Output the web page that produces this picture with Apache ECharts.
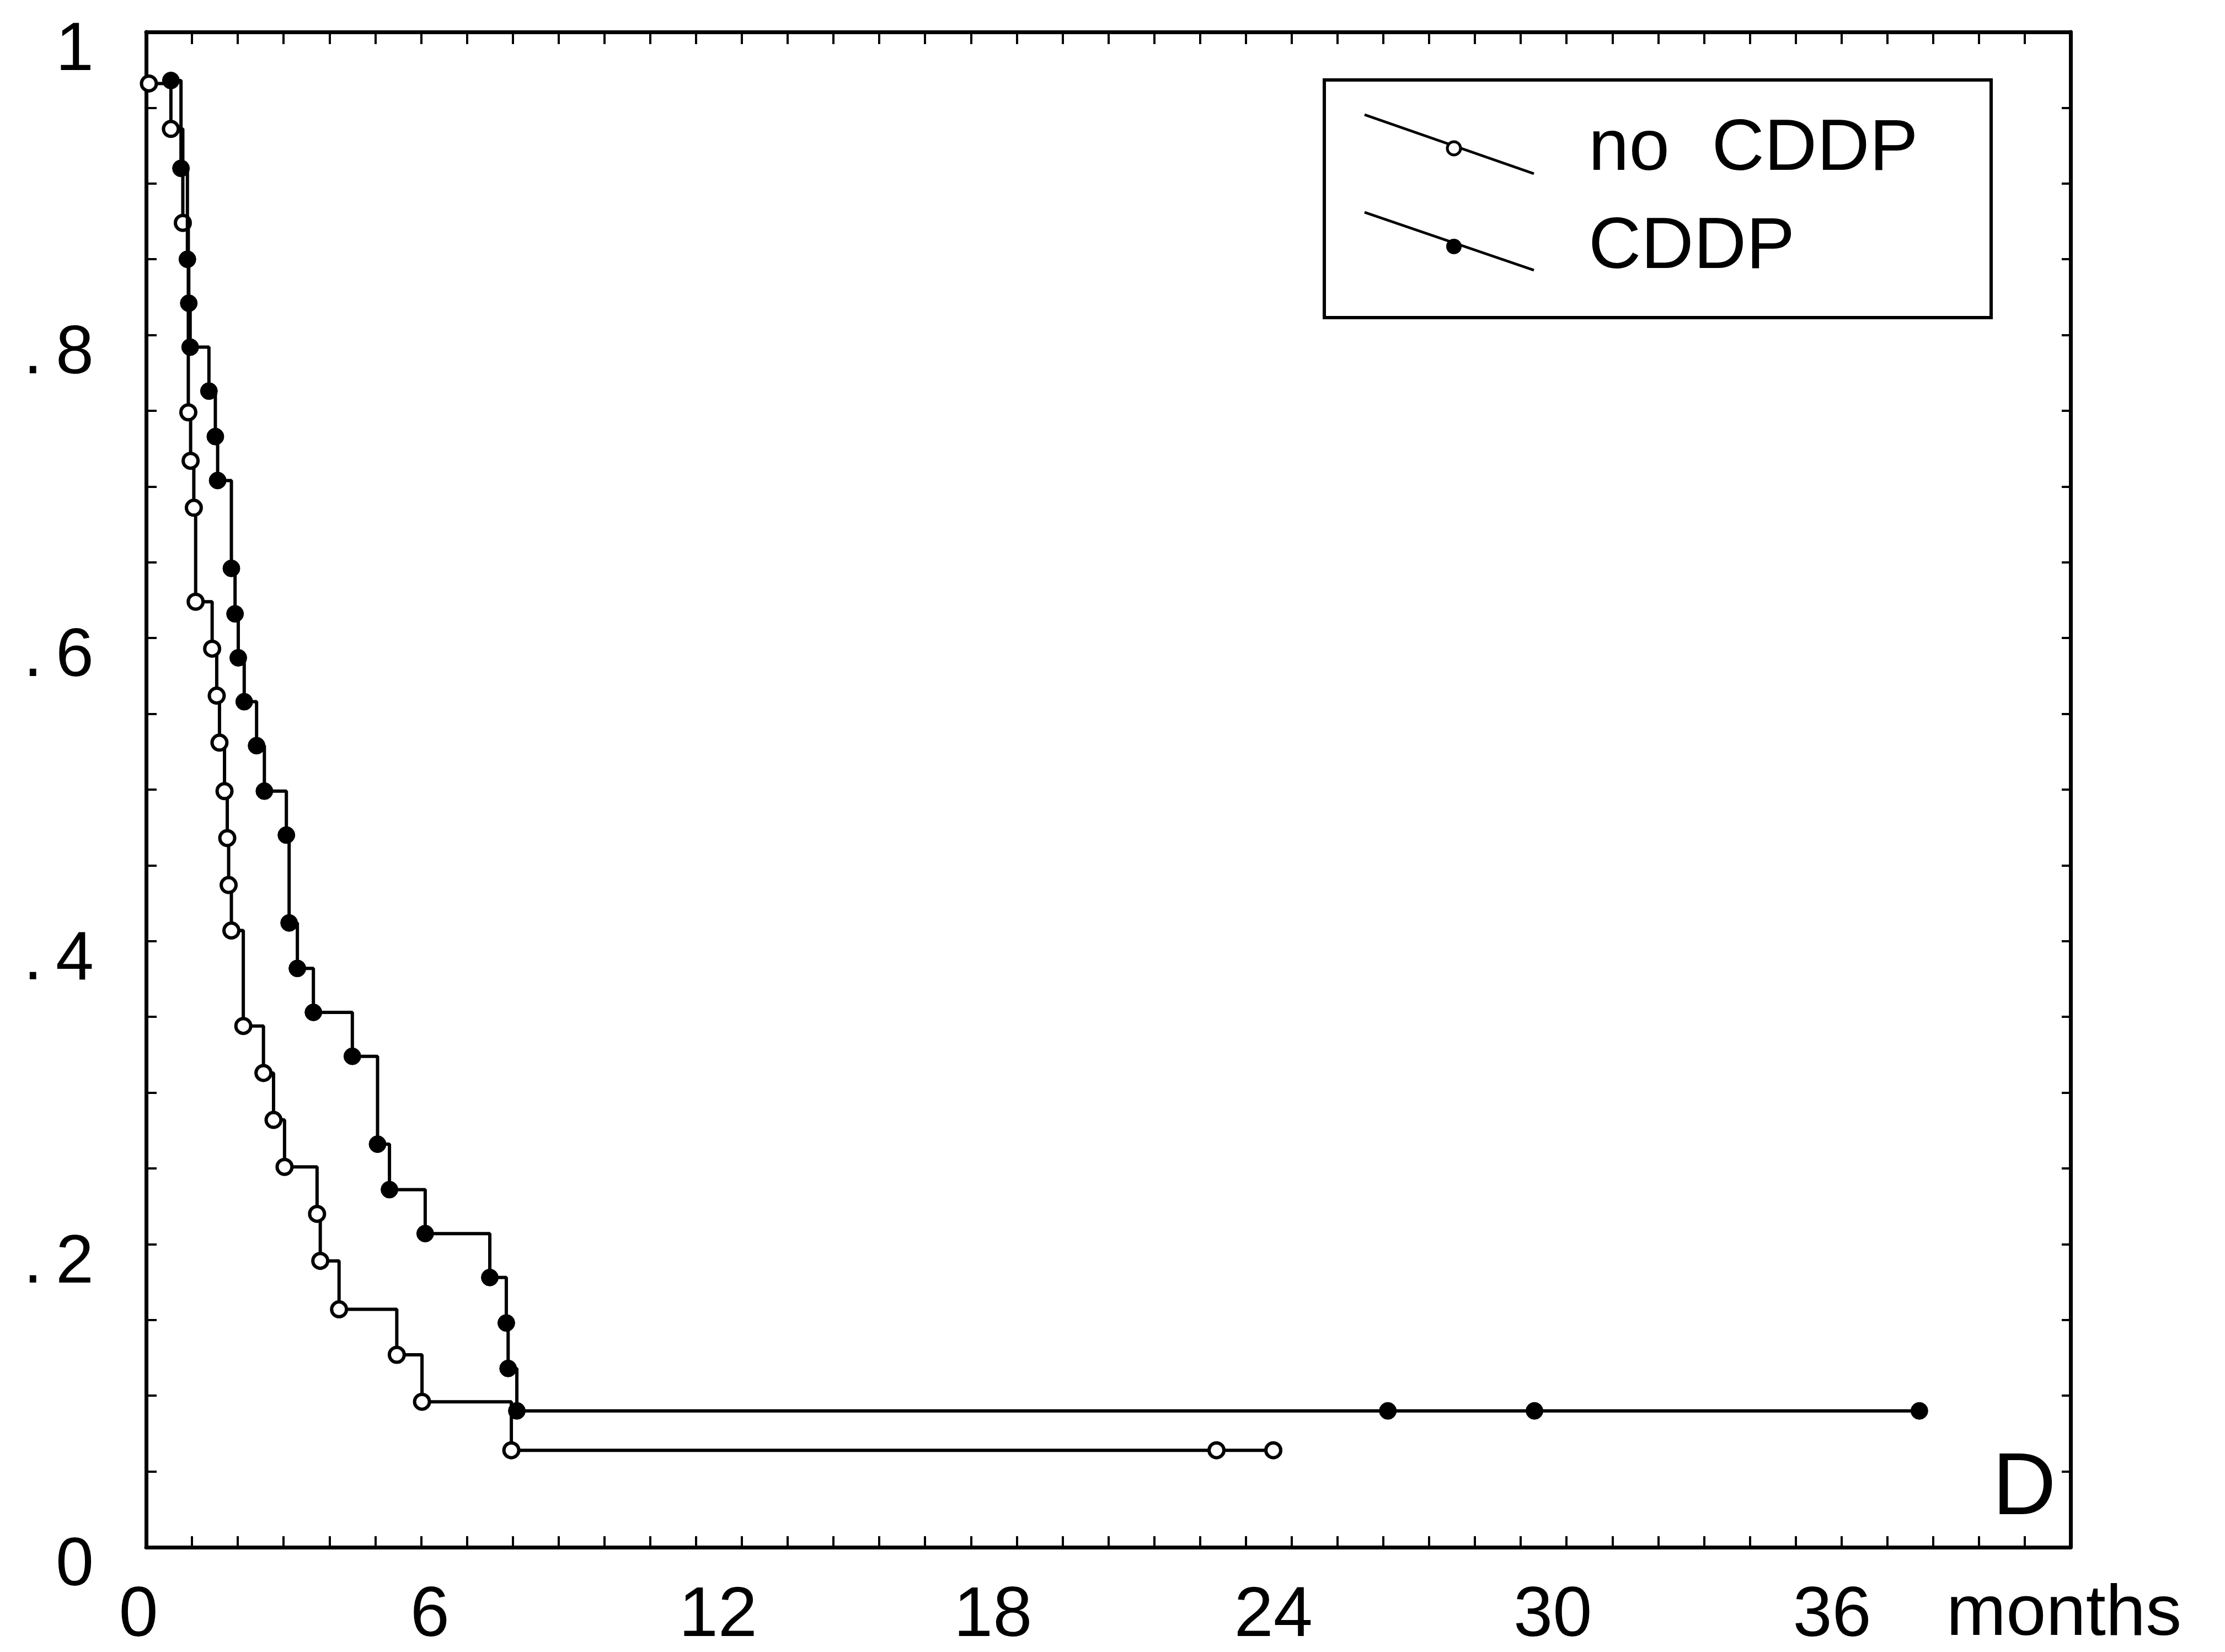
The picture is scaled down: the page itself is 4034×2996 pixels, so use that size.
<!DOCTYPE html>
<html>
<head>
<meta charset="utf-8">
<script src="https://cdn.jsdelivr.net/npm/echarts@6/dist/echarts.min.js"></script>
<style>
html,body{margin:0;padding:0;background:#fff;}
#chart{width:4034px;height:2996px;}
</style>
</head>
<body>
<div id="chart"></div>
<script>
// ---- data ----
const noCddpMonths   = [0.06, 0.54, 0.80, 0.92, 0.97, 1.04, 1.08, 1.44, 1.54, 1.60, 1.71, 1.77, 1.80, 1.86, 2.12, 2.56, 2.78, 3.02, 3.73, 3.80, 4.21, 5.47, 6.02, 7.97, 23.36, 24.6];
const noCddpSurvival = [0.966, 0.936, 0.874, 0.749, 0.717, 0.686, 0.624, 0.593, 0.562, 0.531, 0.499, 0.468, 0.437, 0.407, 0.344, 0.313, 0.282, 0.251, 0.220, 0.189, 0.157, 0.127, 0.096, 0.064, 0.064, 0.064];
const cddpMonths     = [0.54, 0.76, 0.90, 0.93, 0.96, 1.37, 1.51, 1.56, 1.86, 1.94, 2.01, 2.14, 2.41, 2.58, 3.06, 3.12, 3.30, 3.65, 4.50, 5.05, 5.31, 6.09, 7.50, 7.86, 7.90, 8.09, 27.1, 30.3, 38.7];
const cddpSurvival   = [0.968, 0.910, 0.850, 0.821, 0.792, 0.763, 0.733, 0.704, 0.646, 0.616, 0.587, 0.558, 0.529, 0.499, 0.470, 0.412, 0.382, 0.353, 0.324, 0.266, 0.236, 0.207, 0.178, 0.148, 0.118, 0.090, 0.090, 0.090, 0.090];
const xTickLabels = [0, 6, 12, 18, 24, 30, 36];
const yTickLabels = ['0', '.2', '.4', '.6', '.8', '1'];
const seriesNames = ['no CDDP', 'CDDP'];
const xAxisName = 'months';
const panelLetter = 'D';

// ---- styling ----
const FONT = 'Liberation Sans, Arial, Helvetica, sans-serif';
const xLabelShift = {0: -14, 6: 16, 12: 40, 18: 40, 24: 50, 30: 58, 36: 66};
const xRich = {};
xTickLabels.forEach(v => {
  const s = xLabelShift[v] || 0;
  xRich['s' + v] = {
    fontSize: 128, fontFamily: FONT, color: '#000',
    padding: s >= 0 ? [0, 0, 0, 2 * s] : [0, -2 * s, 0, 0]
  };
});
const Y_DROP = 70;
const yRich = {
  d: {fontSize: 124, fontFamily: FONT, color: '#000', padding: [Y_DROP, 24, 0, 0]},
  n: {fontSize: 124, fontFamily: FONT, color: '#000', padding: [Y_DROP, 0, 0, 0]}
};
const yLabelRich = t => t.charAt(0) === '.' ? '{d|.}{n|' + t.slice(1) + '}' : '{n|' + t + '}';

const pairs = (xs, ys) => xs.map((x, i) => [x, ys[i]]);

const axisLineStyle = {show: true, onZero: false, lineStyle: {color: '#000', width: 7}};

const chart = echarts.init(document.getElementById('chart'), null, {renderer: 'canvas'});
chart.setOption({
  animation: false,
  backgroundColor: '#fff',
  grid: {left: 265, right: 280, top: 58, bottom: 181},
  xAxis: [
    {
      type: 'value', min: 0, max: 42, interval: 1, position: 'bottom',
      axisLine: axisLineStyle,
      axisTick: {inside: true, length: 20, lineStyle: {color: '#000', width: 4}},
      splitLine: {show: false},
      axisLabel: {
        margin: 62, fontSize: 128, fontFamily: FONT, color: '#000',
        formatter: v => (xTickLabels.indexOf(v) >= 0 ? '{s' + v + '|' + v + '}' : ''),
        rich: xRich
      },
      name: xAxisName, nameLocation: 'end', nameGap: -12,
      nameTextStyle: {fontSize: 130, fontFamily: FONT, color: '#000', align: 'center', verticalAlign: 'top', padding: [58, 0, 0, 0]}
    },
    {
      type: 'value', min: 0, max: 42, interval: 1, position: 'top',
      axisLine: axisLineStyle,
      axisTick: {inside: true, length: 22, lineStyle: {color: '#000', width: 4}},
      splitLine: {show: false},
      axisLabel: {show: false}
    }
  ],
  yAxis: [
    {
      type: 'value', min: 0, max: 1, interval: 0.05, position: 'left',
      axisLine: axisLineStyle,
      axisTick: {inside: true, length: 19, lineStyle: {color: '#000', width: 4}},
      splitLine: {show: false},
      axisLabel: {
        margin: 95, fontSize: 124, fontFamily: FONT, color: '#000',
        formatter: v => {
          const k = Math.round(v * 100);
          return k % 20 === 0 ? yLabelRich(yTickLabels[k / 20]) : '';
        },
        rich: yRich
      }
    },
    {
      type: 'value', min: 0, max: 1, interval: 0.05, position: 'right',
      axisLine: axisLineStyle,
      axisTick: {inside: true, length: 16, lineStyle: {color: '#000', width: 4}},
      splitLine: {show: false},
      axisLabel: {show: false}
    }
  ],
  series: [
    {
      name: seriesNames[0], type: 'line', step: 'end',
      data: pairs(noCddpMonths, noCddpSurvival),
      symbol: 'circle', symbolSize: 27, showAllSymbol: true,
      lineStyle: {color: '#000', width: 6},
      itemStyle: {color: '#fff', borderColor: '#000', borderWidth: 6},
      z: 3
    },
    {
      name: seriesNames[1], type: 'line', step: 'end',
      data: pairs(cddpMonths, cddpSurvival),
      symbol: 'circle', symbolSize: 31, showAllSymbol: true,
      lineStyle: {color: '#000', width: 6},
      itemStyle: {color: '#000', borderColor: '#000', borderWidth: 1},
      z: 4
    }
  ],
  graphic: [
    {type: 'rect', shape: {x: 2401, y: 145, width: 1209, height: 431}, style: {fill: '#fff', stroke: '#000', lineWidth: 6}, z: 10},
    {type: 'line', shape: {x1: 2474, y1: 208, x2: 2781, y2: 315}, style: {stroke: '#000', lineWidth: 5}, z: 11},
    {type: 'circle', shape: {cx: 2636, cy: 269, r: 12}, style: {fill: '#fff', stroke: '#000', lineWidth: 5}, z: 12},
    {type: 'line', shape: {x1: 2474, y1: 385, x2: 2781, y2: 490}, style: {stroke: '#000', lineWidth: 5}, z: 11},
    {type: 'circle', shape: {cx: 2636, cy: 447, r: 14}, style: {fill: '#000'}, z: 12},
    {type: 'text', x: 2880, y: 272, style: {
      text: '{a|no} {b|CDDP}', fill: '#000', verticalAlign: 'middle', font: '132px ' + FONT,
      rich: {a: {font: '132px ' + FONT, fill: '#000', padding: [0, 40, 0, 0]}, b: {font: '132px ' + FONT, fill: '#000'}}
    }, z: 12},
    {type: 'text', x: 2880, y: 450, style: {text: seriesNames[1], font: '132px ' + FONT, fill: '#000', verticalAlign: 'middle'}, z: 12},
    {type: 'text', x: 3670, y: 2702, style: {text: panelLetter, font: '160px ' + FONT, fill: '#000', align: 'center', verticalAlign: 'middle'}, z: 12}
  ]
});
</script>
</body>
</html>
